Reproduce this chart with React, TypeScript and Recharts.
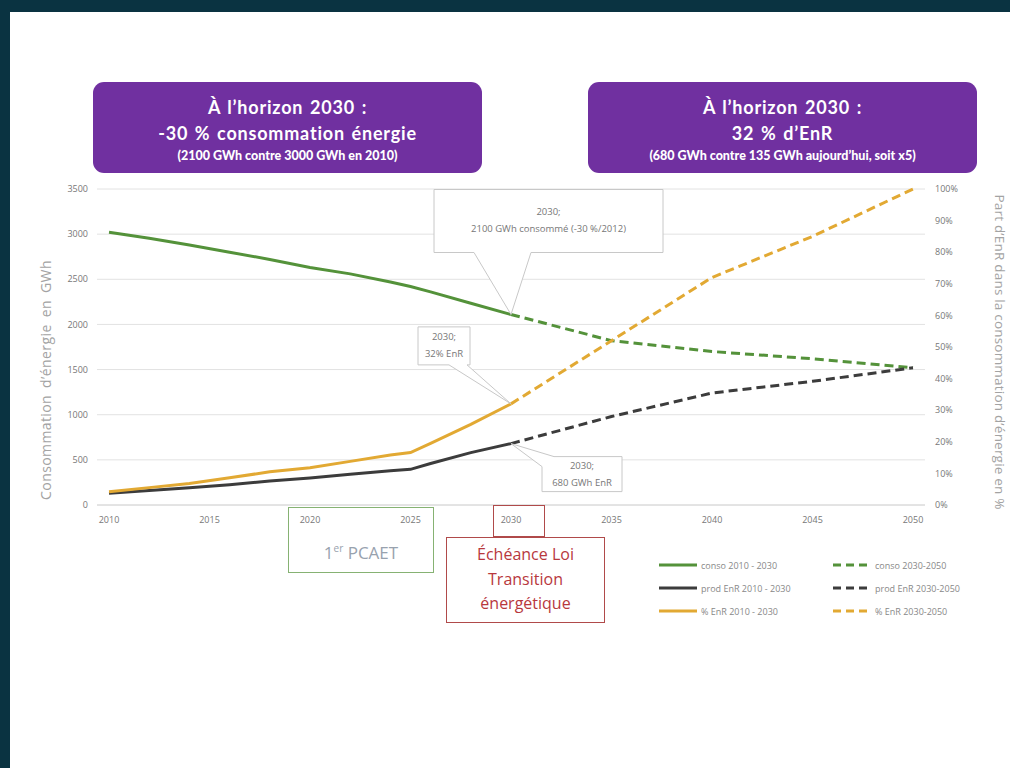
import React from 'react'
import { LineChart, Line, XAxis, YAxis, CartesianGrid, ReferenceDot } from 'recharts'

// observed 2010-2030
const histYears = [2010, 2012, 2014, 2016, 2018, 2020, 2022, 2024, 2025, 2026, 2028, 2030]
const consoHist = [3020, 2955, 2880, 2800, 2720, 2630, 2560, 2470, 2420, 2360, 2235, 2110]
const prodHist = [130, 160, 190, 225, 265, 300, 340, 380, 395, 460, 580, 680]
const pctHist = [4.2, 5.5, 6.8, 8.6, 10.5, 11.8, 13.8, 15.8, 16.6, 19.5, 25.5, 32]

// projection 2030-2050
const projYears = [2030, 2035, 2040, 2045, 2050]
const consoProj = [2110, 1820, 1700, 1620, 1520]
const prodProj = [680, 980, 1240, 1370, 1520]
const pctProj = [32, 52, 72, 85, 100]

const yearTicks = [2010, 2015, 2020, 2025, 2030, 2035, 2040, 2045, 2050]
const gwhTicks = [0, 500, 1000, 1500, 2000, 2500, 3000, 3500]
const pctTicks = [0, 10, 20, 30, 40, 50, 60, 70, 80, 90, 100]

const GREEN = '#54923a'
const DARK = '#3c3c3c'
const GOLD = '#e2a933'
const PURPLE = '#7030a0'

const pick = (xs: number[], vs: number[], y: number) => {
  const i = xs.indexOf(y)
  return i < 0 ? null : vs[i]
}

const allYears = Array.from(new Set([...histYears, ...projYears])).sort((a, b) => a - b)
const rows = allYears.map((y) => ({
  year: y,
  consoHist: pick(histYears, consoHist, y),
  consoProj: pick(projYears, consoProj, y),
  prodHist: pick(histYears, prodHist, y),
  prodProj: pick(projYears, prodProj, y),
  pctHist: pick(histYears, pctHist, y),
  pctProj: pick(projYears, pctProj, y),
}))

const series = [
  { key: 'consoHist', name: 'conso 2010 - 2030', color: GREEN, dash: undefined, axis: 'left' },
  { key: 'consoProj', name: 'conso 2030-2050', color: GREEN, dash: '9 5', axis: 'left' },
  { key: 'prodHist', name: 'prod EnR 2010 - 2030', color: DARK, dash: undefined, axis: 'left' },
  { key: 'prodProj', name: 'prod EnR 2030-2050', color: DARK, dash: '9 5', axis: 'left' },
  { key: 'pctHist', name: '% EnR 2010 - 2030', color: GOLD, dash: undefined, axis: 'right' },
  { key: 'pctProj', name: '% EnR 2030-2050', color: GOLD, dash: '9 5', axis: 'right' },
]

const tick = { fill: '#777', fontSize: 9, fontFamily: 'Open Sans, sans-serif' }

// callout box anchored on a data point; box and pointer base are offsets from the point
const callout = (
  box: { x: number; y: number; w: number; h: number },
  base: 'bottom' | 'topleft',
  b: [number, number],
  lines: string[]
) =>
  (p: any) => {
    const { cx, cy } = p
    const x = cx + box.x
    const y = cy + box.y
    let d = ''
    if (base === 'bottom') {
      d = `M${x},${y} H${x + box.w} V${y + box.h} H${cx + b[1]} L${cx},${cy} L${cx + b[0]},${y + box.h} H${x} Z`
    } else {
      d = `M${x + b[0]},${y} H${x + box.w} V${y + box.h} H${x} V${y + b[1]} L${cx},${cy} Z`
    }
    return (
      <g>
        <path d={d} fill="#fff" stroke="#c8c8c8" strokeWidth={1} />
        {lines.map((t, i) => (
          <text
            key={i}
            x={x + box.w / 2}
            y={y + box.h / 2 + (i - (lines.length - 1) / 2) * 17 + 3}
            textAnchor="middle"
            fontSize={9.5}
            fill="#777"
            fontFamily="Open Sans, sans-serif"
          >
            {t}
          </text>
        ))}
      </g>
    )
  }

const bannerStyle: React.CSSProperties = {
  position: 'absolute',
  top: 82,
  width: 389,
  height: 91,
  background: PURPLE,
  borderRadius: 11,
  color: '#fff',
  fontFamily: 'Lato, sans-serif',
  fontWeight: 700,
  textAlign: 'center',
  boxSizing: 'border-box',
  paddingTop: 12,
}

const Banner = ({ left, l1, l2, l3 }: { left: number; l1: string; l2: string; l3: string }) => (
  <div style={{ ...bannerStyle, left }}>
    <div style={{ fontSize: 18, lineHeight: '26px', letterSpacing: 0.8, wordSpacing: 1.5 }}>{l1}</div>
    <div style={{ fontSize: 18, lineHeight: '26px', letterSpacing: 0.8, wordSpacing: 1.5 }}>{l2}</div>
    <div style={{ fontSize: 12.5, lineHeight: '20px', fontWeight: 900 }}>{l3}</div>
  </div>
)

const LegendSwatch = ({ color, dash }: { color: string; dash?: string }) => (
  <svg width={38} height={6} style={{ marginRight: 4 }}>
    <line x1={0} y1={3} x2={38} y2={3} stroke={color} strokeWidth={3} strokeDasharray={dash ? '8 5' : undefined} />
  </svg>
)

export default function App() {
  return (
    <div style={{ position: 'fixed', left: 0, top: 0, width: 1010, height: 768, background: '#fff', overflow: 'hidden' }}>
      <div style={{ position: 'absolute', left: 0, top: 0, width: 1010, height: 12, background: '#0a3341' }} />
      <div style={{ position: 'absolute', left: 0, top: 0, width: 10, height: 768, background: '#0a3341' }} />

      <Banner left={93} l1="À l’horizon 2030 :" l2="-30 % consommation énergie" l3="(2100 GWh contre 3000 GWh en 2010)" />
      <Banner left={588} l1="À l’horizon 2030 :" l2="32 % d’EnR" l3="(680 GWh contre 135 GWh aujourd’hui, soit  x5)" />

      <div style={{ position: 'absolute', left: 0, top: 0 }}>
        <LineChart width={1010} height={768} data={rows} margin={{ top: 189, left: 57, right: 40, bottom: 233 }}>
          <CartesianGrid yAxisId="left" vertical={false} stroke="#e2e2e2" />
          <XAxis
            dataKey="year"
            type="number"
            domain={[2010, 2050]}
            ticks={yearTicks}
            padding={{ left: 12, right: 12 }}
            height={30}
            tick={tick}
            tickLine={false}
            tickSize={0}
            tickMargin={12}
            axisLine={{ stroke: '#d6d6d6' }}
          />
          <YAxis
            yAxisId="left"
            domain={[0, 3500]}
            ticks={gwhTicks}
            width={40}
            tick={tick}
            tickLine={false}
            tickSize={0}
            tickMargin={9}
            axisLine={false}
          />
          <YAxis
            yAxisId="right"
            orientation="right"
            domain={[0, 100]}
            ticks={pctTicks}
            tickFormatter={(v) => `${v}%`}
            width={45}
            tick={tick}
            tickLine={false}
            tickSize={0}
            tickMargin={10}
            axisLine={false}
          />
          {series.map((s) => (
            <Line
              key={s.key}
              yAxisId={s.axis}
              dataKey={s.key}
              name={s.name}
              type="linear"
              stroke={s.color}
              strokeWidth={3}
              strokeDasharray={s.dash}
              dot={false}
              activeDot={false}
              connectNulls
              isAnimationActive={false}
            />
          ))}
          <ReferenceDot
            yAxisId="left"
            x={2030}
            y={consoHist[consoHist.length - 1]}
            r={0}
            shape={callout({ x: -77, y: -125, w: 229, h: 63 }, 'bottom', [-37, 20], ['2030;', '2100 GWh consommé (-30 %/2012)'])}
          />
          <ReferenceDot
            yAxisId="right"
            x={2030}
            y={pctHist[pctHist.length - 1]}
            r={0}
            shape={callout({ x: -93, y: -77, w: 52, h: 38 }, 'bottom', [-62, -44], ['2030;', '32% EnR'])}
          />
          <ReferenceDot
            yAxisId="left"
            x={2030}
            y={prodHist[prodHist.length - 1]}
            r={0}
            shape={callout({ x: 31, y: 13, w: 80, h: 35 }, 'topleft', [12, 10], ['2030;', '680 GWh EnR'])}
          />
        </LineChart>
      </div>

      <div
        style={{
          position: 'absolute', left: 45, top: 380, transform: 'translate(-50%, -50%) rotate(-90deg)',
          whiteSpace: 'nowrap', fontSize: 14, letterSpacing: 0.4, wordSpacing: 3, color: '#a3a3a3',
          fontFamily: 'Open Sans, sans-serif',
        }}
      >
        Consommation d’énergie en GWh
      </div>
      <div
        style={{
          position: 'absolute', left: 999, top: 352, transform: 'translate(-50%, -50%) rotate(90deg)',
          whiteSpace: 'nowrap', fontSize: 13.5, letterSpacing: 0.2, lineHeight: '15px', color: '#a3a3a3',
          fontFamily: 'Open Sans, sans-serif',
        }}
      >
        Part d’EnR dans la consommation d’énergie en %
      </div>

      <div
        style={{
          position: 'absolute', left: 288, top: 507, width: 146, height: 66, boxSizing: 'border-box',
          border: '1.5px solid #86b273', textAlign: 'center', paddingTop: 33,
          fontFamily: 'Open Sans, sans-serif', fontSize: 17, color: '#98a2ae',
        }}
      >
        1<sup style={{ fontSize: 10 }}>er</sup> PCAET
      </div>
      <div
        style={{
          position: 'absolute', left: 493, top: 505, width: 52, height: 32, boxSizing: 'border-box',
          border: '1.5px solid #b04a4a',
        }}
      />
      <div
        style={{
          position: 'absolute', left: 446, top: 537, width: 159, height: 86, boxSizing: 'border-box',
          border: '1.5px solid #b04a4a', textAlign: 'center', paddingTop: 4,
          fontFamily: 'Open Sans, sans-serif', fontSize: 16, lineHeight: '24.5px', color: '#b8383d',
        }}
      >
        Échéance Loi
        <br />
        Transition
        <br />
        énergétique
      </div>

      <div
        style={{
          position: 'absolute', left: 659, top: 557, display: 'grid', gridTemplateColumns: '174px 160px',
          rowGap: 7, fontFamily: 'Open Sans, sans-serif', fontSize: 9, color: '#888',
        }}
      >
        {series.map((s) => (
          <div key={s.key} style={{ display: 'flex', alignItems: 'center', height: 16, whiteSpace: 'nowrap' }}>
            <LegendSwatch color={s.color} dash={s.dash} />
            {s.name}
          </div>
        ))}
      </div>
    </div>
  )
}
